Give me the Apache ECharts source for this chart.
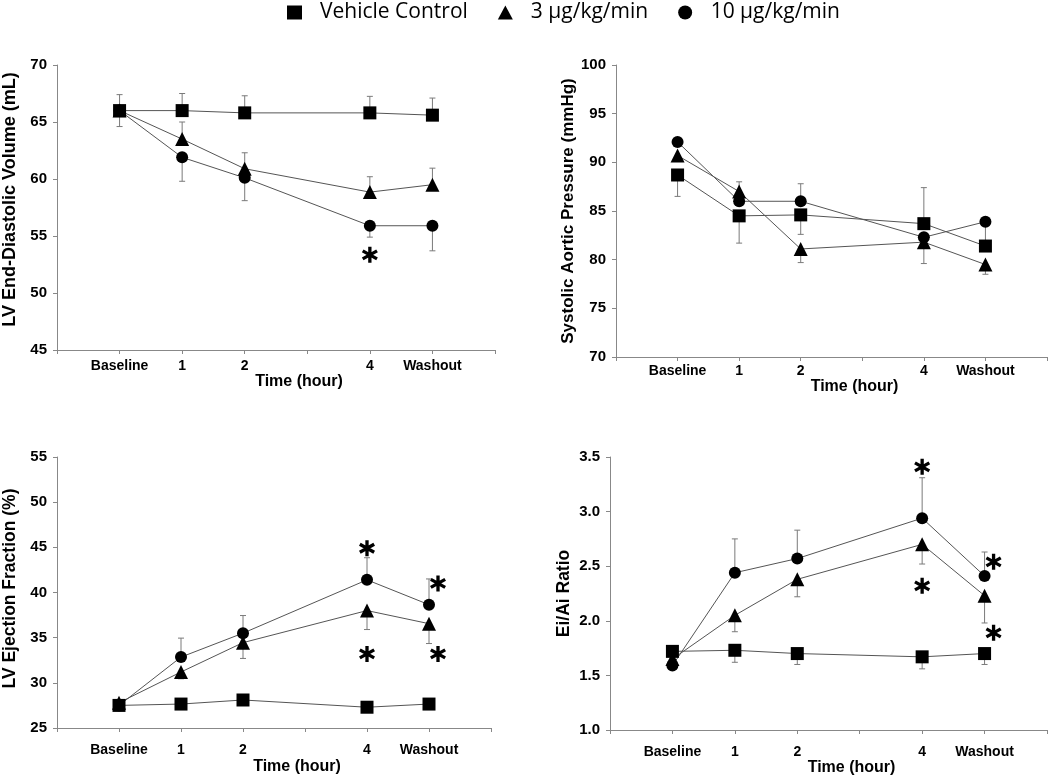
<!DOCTYPE html>
<html>
<head>
<meta charset="utf-8">
<script src="https://cdn.jsdelivr.net/npm/echarts@6/dist/echarts.min.js"></script>
<style>
  html, body { margin: 0; padding: 0; background: #fff; }
  #chart { width: 1050px; height: 778px; }
</style>
</head>
<body>
<div id="chart"></div>
<script>
// ---------------- DATA ----------------
const xTickValues = [0, 1, 2, 4, 5];
const xTickLabels = ['Baseline', '1', '2', '4', 'Washout'];
const xAxisTitle = 'Time (hour)';
const seriesNames = ['Vehicle Control', '3 µg/kg/min', '10 µg/kg/min'];

// Panel A: LV End-Diastolic Volume (mL)
const edvTitle = 'LV End-Diastolic Volume (mL)';
const edvVehicle = [66.0, 66.0, 65.8, 65.8, 65.6];
const edv3 = [66.0, 63.5, 60.9, 58.85, 59.5];
const edv10 = [66.0, 61.9, 60.1, 55.9, 55.9];
const edvVehicleErr = [1.4, 1.5, 1.5, 1.45, 1.5];
const edv3Err = [0, 1.5, 1.4, 1.35, 1.45];
const edv10Err = [-1.4, -2.1, -2.0, -1.0, -2.2];
const edvStars = [[4, 53.35]];

// Panel B: Systolic Aortic Pressure (mmHg)
const sapTitle = 'Systolic Aortic Pressure (mmHg)';
const sapVehicle = [88.7, 84.5, 84.6, 83.7, 81.4];
const sap3 = [90.7, 87.0, 81.1, 81.8, 79.5];
const sap10 = [92.1, 86.0, 86.0, 82.3, 83.9];
const sapVehicleErr = [-2.2, -2.8, -2.0, 3.7, 2.3];
const sap3Err = [0, 1.0, -1.4, -2.2, -1.0];
const sap10Err = [0, 0, 1.8, 0, 0];
const sapStars = [];

// Panel C: LV Ejection Fraction (%)
const efTitle = 'LV Ejection Fraction (%)';
const efVehicle = [27.5, 27.65, 28.1, 27.3, 27.65];
const ef3 = [27.8, 31.2, 34.45, 38.0, 36.55];
const ef10 = [27.5, 32.85, 35.5, 41.4, 38.65];
const efVehicleErr = [0.4, 0.4, 0.4, 0.4, 0.4];
const ef3Err = [0, -0.75, -1.75, -2.1, -2.2];
const ef10Err = [0, 2.1, 1.95, 2.45, 2.85];
const efStars = [[4, 44.9], [4, 33.2], [5, 41.0], [5, 33.2]];

// Panel D: Ei/Ai Ratio
const eiTitle = 'Ei/Ai Ratio';
const eiVehicle = [1.72, 1.73, 1.70, 1.67, 1.70];
const ei3 = [1.65, 2.05, 2.38, 2.70, 2.23];
const ei10 = [1.59, 2.44, 2.57, 2.94, 2.41];
const eiVehicleErr = [0, -0.11, -0.10, -0.11, -0.10];
const ei3Err = [0, -0.15, -0.16, -0.18, -0.25];
const ei10Err = [0, 0.31, 0.26, 0.37, 0.22];
const eiStars = [[4, 3.41], [4, 2.32], [5, 2.54], [5, 1.89]];

// Y axis ranges [min, max, interval]
const edvRange = [45, 70, 5];
const sapRange = [70, 100, 5];
const efRange = [25, 55, 5];
const eiRange = [1.0, 3.5, 0.5];

// ---------------- STYLE / LAYOUT ----------------
const FONT = "'Liberation Sans', Arial, sans-serif";
const panels = [
  { title: edvTitle, range: edvRange, dec: 0, vals: [edvVehicle, edv3, edv10], errs: [edvVehicleErr, edv3Err, edv10Err], stars: edvStars,
    grid: { left: 56, top: 65, width: 439, height: 285 }, yNameSize: 18, yNameGap: 38, yNamePad: [0, 0, 0, 16], xLabelMargin: 9, xNameGap: 21 },
  { title: sapTitle, range: sapRange, dec: 0, vals: [sapVehicle, sap3, sap10], errs: [sapVehicleErr, sap3Err, sap10Err], stars: sapStars,
    grid: { left: 616, top: 65, width: 434, height: 292 }, yNameSize: 17, yNameGap: 35, yNamePad: 0, xLabelMargin: 7, xNameGap: 16 },
  { title: efTitle, range: efRange, dec: 0, vals: [efVehicle, ef3, ef10], errs: [efVehicleErr, ef3Err, ef10Err], stars: efStars,
    grid: { left: 54, top: 457, width: 437, height: 271 }, yNameSize: 17.5, yNameGap: 38, yNamePad: [0, 0, 0, 8], xLabelMargin: 15, xNameGap: 31 },
  { title: eiTitle, range: eiRange, dec: 1, vals: [eiVehicle, ei3, ei10], errs: [eiVehicleErr, ei3Err, ei10Err], stars: eiStars,
    grid: { left: 610, top: 457, width: 438, height: 273 }, yNameSize: 17.5, yNameGap: 37, yNamePad: 0, xLabelMargin: 15, xNameGap: 28 }
];
const symbols = ['rect', 'triangle', 'circle'];
const symbolSizes = [13, 14, 12];
const STAR_PATH = 'path://M-10,-50L10,-50L10,50L-10,50Z' +
  'M38.3,-33.7L48.3,-16.3L-38.3,33.7L-48.3,16.3Z' +
  'M-48.3,-16.3L-38.3,-33.7L48.3,16.3L38.3,33.7Z';

const labelMap = {};
xTickValues.forEach((v, i) => { labelMap[v] = xTickLabels[i]; });

function errRender(params, api) {
  const x = api.value(0), y = api.value(1), e = api.value(2);
  if (!e) return null;
  const p0 = api.coord([x, y]);
  const p1 = api.coord([x, y + e]);
  const cap = 3;
  const st = { stroke: '#7a7a7a', lineWidth: 1 };
  return {
    type: 'group',
    children: [
      { type: 'line', shape: { x1: p0[0], y1: p0[1], x2: p1[0], y2: p1[1] }, style: st },
      { type: 'line', shape: { x1: p1[0] - cap, y1: p1[1], x2: p1[0] + cap, y2: p1[1] }, style: st }
    ]
  };
}

const grid = [], xAxis = [], yAxis = [], series = [];
panels.forEach((p, k) => {
  grid.push(p.grid);
  xAxis.push({
    type: 'value', gridIndex: k, min: -1, max: 6, interval: 1,
    name: xAxisTitle, nameLocation: 'middle', nameGap: p.xNameGap,
    nameTextStyle: { fontFamily: FONT, fontWeight: 'bold', fontSize: 16, color: '#000', padding: [0, 0, 0, 46] },
    axisLine: { show: true, onZero: false, lineStyle: { color: '#888', width: 1 } },
    axisTick: { show: true, length: 4, lineStyle: { color: '#888' } },
    splitLine: { show: false },
    axisLabel: { margin: p.xLabelMargin, fontFamily: FONT, fontWeight: 'bold', fontSize: 14, color: '#000',
      formatter: v => (labelMap[v] !== undefined ? labelMap[v] : '') }
  });
  yAxis.push({
    type: 'value', gridIndex: k, min: p.range[0], max: p.range[1], interval: p.range[2],
    name: p.title, nameLocation: 'middle', nameGap: p.yNameGap, nameRotate: 90,
    nameTextStyle: { fontFamily: FONT, fontWeight: 'bold', fontSize: p.yNameSize, color: '#000', padding: p.yNamePad },
    axisLine: { show: true, onZero: false, lineStyle: { color: '#888', width: 1 } },
    axisTick: { show: true, length: 4, lineStyle: { color: '#888' } },
    splitLine: { show: false },
    axisLabel: { margin: 10, fontFamily: FONT, fontWeight: 'bold', fontSize: 15, color: '#000',
      formatter: v => v.toFixed(p.dec) }
  });
  // error bars
  p.vals.forEach((vals, s) => {
    series.push({
      type: 'custom', name: seriesNames[s] + ' SD', xAxisIndex: k, yAxisIndex: k, z: 2,
      renderItem: errRender, encode: { x: 0, y: 1 },
      data: xTickValues.map((t, i) => [t, vals[i], p.errs[s][i]]),
      silent: true
    });
  });
  // mean lines
  p.vals.forEach((vals, s) => {
    series.push({
      type: 'line', name: seriesNames[s], xAxisIndex: k, yAxisIndex: k, z: 3,
      data: xTickValues.map((t, i) => [t, vals[i]]),
      symbol: symbols[s], symbolSize: symbolSizes[s], showSymbol: true,
      itemStyle: { color: '#000', borderWidth: 0 },
      lineStyle: { color: '#555', width: 1 },
      emphasis: { disabled: true },
      animation: false
    });
  });
  // significance asterisks
  if (p.stars.length) {
    series.push({
      type: 'scatter', name: 'p < 0.05', xAxisIndex: k, yAxisIndex: k, z: 4,
      symbol: STAR_PATH, symbolSize: 16,
      data: p.stars.map(s => ({ value: s, symbolOffset: [s[0] === 5 ? 9 : 0, 0] })),
      itemStyle: { color: '#000', opacity: 1 },
      emphasis: { disabled: true },
      silent: true, animation: false
    });
  }
});

const chart = echarts.init(document.getElementById('chart'), null, { renderer: 'canvas' });
chart.setOption({
  backgroundColor: '#fff',
  animation: false,
  legend: {
    top: -3, left: 282, itemWidth: 15, itemHeight: 14, itemGap: 30,
    selectedMode: false,
    textStyle: { fontFamily: "'Open Sans', 'Noto Sans', sans-serif", fontSize: 21, color: '#000', padding: [0, 0, 0, 13] },
    data: [
      { name: seriesNames[0], icon: 'rect' },
      { name: seriesNames[1], icon: 'triangle' },
      { name: seriesNames[2], icon: 'circle' }
    ]
  },
  grid, xAxis, yAxis, series
});
</script>
</body>
</html>
